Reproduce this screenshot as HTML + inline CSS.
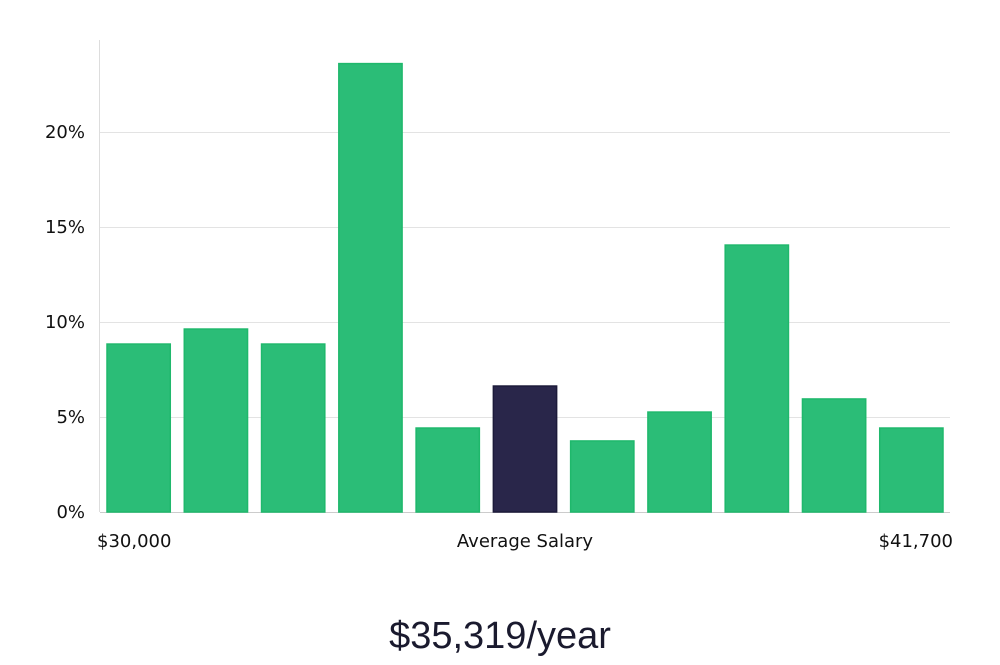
<!DOCTYPE html>
<html><head><meta charset="utf-8"><style>
body{margin:0;background:#fff;width:1000px;height:660px;overflow:hidden}
svg text{font-family:"DejaVu Sans","Liberation Sans",sans-serif;fill:#111}
</style></head><body>
<svg id="chart" width="1000" height="660" xmlns="http://www.w3.org/2000/svg">
<g id="grid"></g>
<g id="bars"></g>
<g id="ylabels"></g>
<line x1="99.5" y1="40" x2="99.5" y2="512" stroke="#ddd"/>
<text x="97" y="547" font-size="18">$30,000</text>
<text x="525" y="547" font-size="18" text-anchor="middle">Average Salary</text>
<text x="953" y="547" font-size="18" text-anchor="end">$41,700</text>
<text x="500" y="648" font-size="38" text-anchor="middle" style="font-family:'Liberation Sans',sans-serif;font-weight:300;fill:#1a1a2e">$35,319/year</text>
</svg>
<script>
const categories=["b1","b2","b3","b4","b5","b6","b7","b8","b9","b10","b11"];
const values=[8.84,9.63,8.84,23.6,4.42,6.63,3.74,5.26,14.05,5.95,4.42];
const highlightIndex=5;
const yTicks=[0,5,10,15,20];
const yTickLabels=["0%","5%","10%","15%","20%"];
const NS="http://www.w3.org/2000/svg";
const x0=100,x1=950,y0=512,pxPer=19;
const band=(x1-x0)/categories.length,pad=7;
const y=v=>y0-v*pxPer;
const grid=document.getElementById('grid'),bars=document.getElementById('bars'),yl=document.getElementById('ylabels');
yTicks.forEach((t,i)=>{
 const l=document.createElementNS(NS,'line');
 
 
 l.setAttribute('x1',x0);l.setAttribute('x2',x1);l.setAttribute('y1',y(t)+0.5);l.setAttribute('y2',y(t)+0.5);
 l.setAttribute('stroke',t===0?'#ccc':'#e3e3e3');grid.appendChild(l);
 const tx=document.createElementNS(NS,'text');
 
 
 tx.setAttribute('x',85);tx.setAttribute('y',y(t)+6);tx.setAttribute('text-anchor','end');tx.setAttribute('font-size','18');
 tx.textContent=yTickLabels[i];yl.appendChild(tx);
});
values.forEach((v,i)=>{
 const r=document.createElementNS(NS,'rect');
 
 
 r.setAttribute('x',x0+i*band+pad);r.setAttribute('width',band-2*pad);
 r.setAttribute('y',y(v));r.setAttribute('height',v*pxPer);
 const hi=i===highlightIndex;
 r.setAttribute('fill',hi?'#29264a':'#2bbd77');r.setAttribute('stroke',hi?'#1c1a3a':'#1fb86c');r.setAttribute('stroke-width','1.5');
 bars.appendChild(r);
});
</script>
</body></html>
